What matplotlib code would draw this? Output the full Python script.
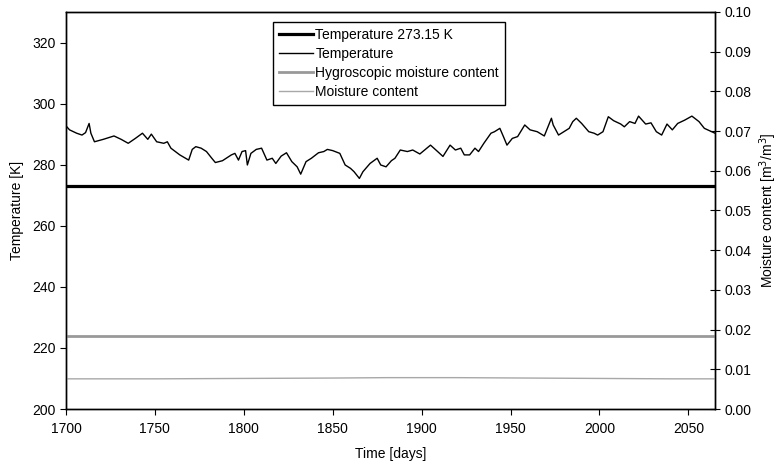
import numpy as np
import matplotlib
matplotlib.use('Agg')
import matplotlib.pyplot as plt

plt.rcParams['font.family'] = ['Liberation Sans', 'DejaVu Sans']

# temperature (days, K)
temp_days = [1700, 1702, 1706, 1709, 1711, 1713, 1714, 1716, 1721, 1727, 1731, 1735, 1739, 1743,
             1746, 1748, 1751, 1755, 1757, 1759, 1764, 1769, 1771, 1773, 1776, 1779, 1782, 1784,
             1788, 1793, 1795, 1797, 1799, 1801, 1802, 1804, 1807, 1810, 1813, 1816, 1818, 1821,
             1824, 1827, 1830, 1832, 1835, 1838, 1842, 1845, 1847, 1850, 1854, 1857, 1860, 1862,
             1865, 1867, 1871, 1875, 1877, 1880, 1883, 1885, 1888, 1892, 1895, 1899, 1905, 1909,
             1912, 1916, 1919, 1922, 1924, 1927, 1930, 1932, 1935, 1939, 1941, 1944, 1946, 1948,
             1951, 1954, 1958, 1961, 1965, 1969, 1973, 1974, 1977, 1980, 1983, 1985, 1987, 1990,
             1994, 1997, 1999, 2002, 2005, 2008, 2012, 2014, 2017, 2020, 2022, 2026, 2029, 2032,
             2035, 2038, 2041, 2044, 2048, 2052, 2056, 2059, 2065]
temp_vals = [292.7, 291.4, 290.3, 289.7, 290.5, 293.5, 290.3, 287.5, 288.3, 289.4, 288.3, 287.0, 288.6, 290.3,
             288.3, 290.0, 287.5, 287.0, 287.5, 285.4, 283.2, 281.5, 285.0, 285.9, 285.4, 284.3, 282.1, 280.7,
             281.3, 283.2, 283.7, 281.5, 284.3, 284.6, 279.9, 283.7, 285.0, 285.4, 281.5, 282.1, 280.4, 282.8,
             283.9, 281.0, 279.3, 276.9, 281.0, 282.1, 283.9, 284.3, 285.0, 284.6, 283.7, 279.9, 278.8, 277.7,
             275.5, 277.7, 280.4, 282.1, 279.9, 279.3, 281.3, 282.1, 284.8, 284.3, 284.8, 283.5, 286.4, 284.3,
             282.7, 286.4, 284.8, 285.4, 283.2, 283.2, 285.4, 284.3, 287.0, 290.3, 290.8, 291.9, 289.2, 286.4,
             288.6, 289.2, 293.0, 291.4, 290.8, 289.4, 295.2, 293.0, 289.7, 290.8, 291.9, 294.1, 295.2, 293.5,
             290.8, 290.3, 289.7, 290.8, 295.7, 294.4, 293.3, 292.4, 294.1, 293.5, 295.9, 293.3, 293.7, 290.8,
             289.7, 293.3, 291.4, 293.5, 294.6, 295.9, 294.1, 291.9, 290.3]

freeze_temp = 273.15
hygro_moist = 0.0183

moist_days = [1700, 1750, 1800, 1850, 1880, 1920, 1960, 2000, 2040, 2065]
moist_vals = [0.0076, 0.0076, 0.0077, 0.0078, 0.0079, 0.0079, 0.0078, 0.0077, 0.0076, 0.0076]

x_min, x_max = 1700, 2065
fs = 10

fig = plt.figure(figsize=(7.81, 4.71), dpi=100)
ax = fig.add_axes([0.0845, 0.1316, 0.831, 0.843])
ax2 = ax.twinx()

l1, = ax.plot([x_min, x_max], [freeze_temp, freeze_temp], color='black', lw=2.3,
              label='Temperature 273.15 K')
l2, = ax.plot(temp_days, temp_vals, color='black', lw=1.0, label='Temperature')
l3, = ax2.plot([x_min, x_max], [hygro_moist, hygro_moist], color='#999999', lw=2.0,
               label='Hygroscopic moisture content')
l4, = ax2.plot(moist_days, moist_vals, color='#a8a8a8', lw=1.0, label='Moisture content')

ax.set_xlim(x_min, x_max)
ax.set_ylim(200, 330)
ax2.set_ylim(0, 0.10)
ax.set_xticks(np.arange(1700, 2051, 50))
ax.set_yticks(np.arange(200, 321, 20))
ax2.set_yticks(np.arange(0, 0.101, 0.01))
ax2.set_yticklabels(['%.2f' % v for v in np.arange(0, 0.101, 0.01)])

ax.tick_params(axis='both', direction='out', length=4, labelsize=fs, colors='black')
ax.tick_params(axis='x', pad=5)
ax2.tick_params(axis='y', direction='inout', length=7, labelsize=fs)

for a in (ax, ax2):
    for s in a.spines.values():
        s.set_linewidth(1.0)
        s.set_color('black')

ax.set_xlabel('Time [days]', fontsize=fs, labelpad=8)
ax.set_ylabel('Temperature [K]', fontsize=fs, labelpad=6)
ax2.set_ylabel('Moisture content [m$^3$/m$^3$]', fontsize=fs, labelpad=4)

leg = ax.legend(handles=[l1, l2, l3, l4], loc='upper center', bbox_to_anchor=(0.498, 0.975),
                fontsize=fs, fancybox=False, framealpha=1, edgecolor='black',
                handlelength=2.4, handletextpad=0.2, labelspacing=0.35, borderpad=0.45,
                borderaxespad=0)
leg.get_frame().set_linewidth(1.0)

plt.savefig('out.png', dpi=100)
